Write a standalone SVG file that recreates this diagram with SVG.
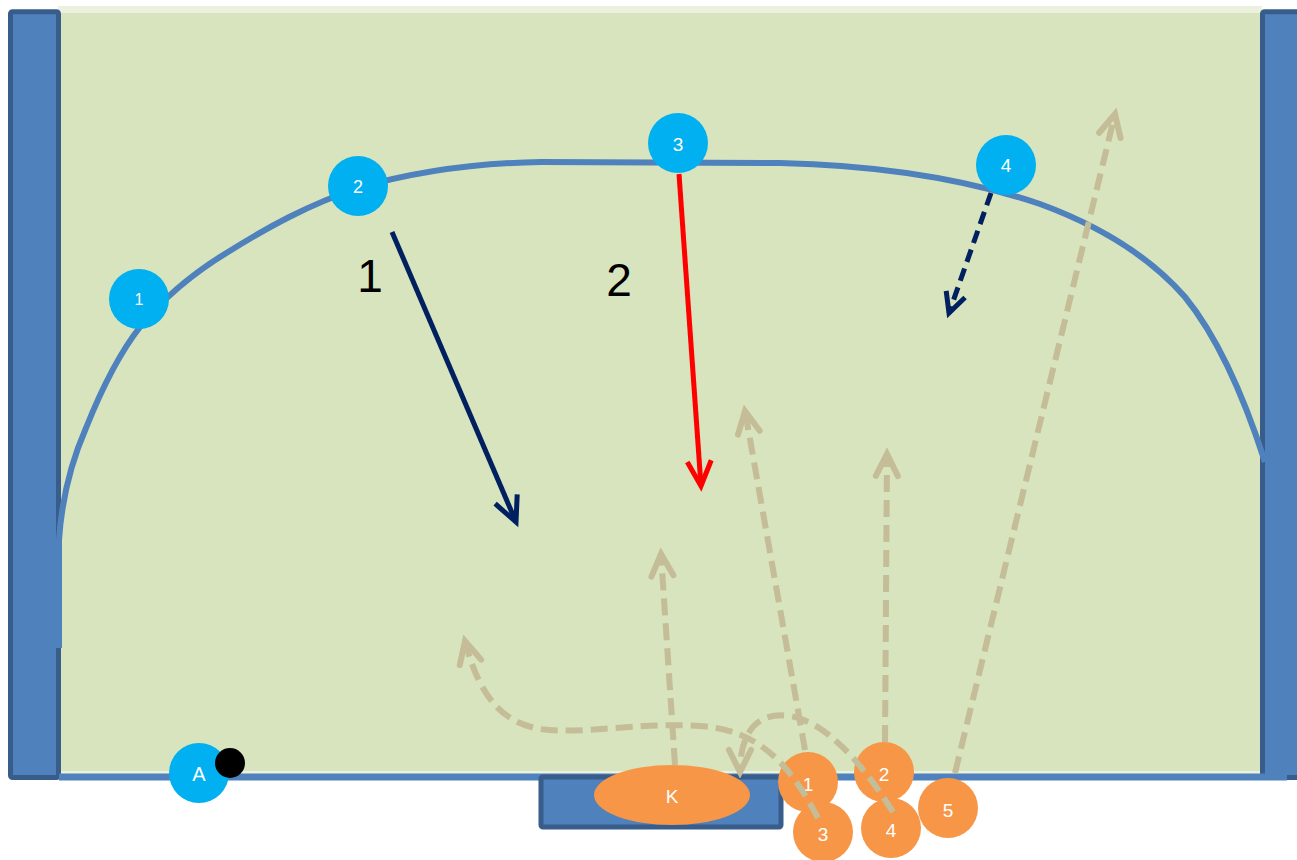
<svg xmlns="http://www.w3.org/2000/svg" width="1297" height="860" viewBox="0 0 1297 860">
  <style>
    .wall { fill: #4F81BD; stroke: #385D8A; stroke-width: 5; }
    .blue { fill: #00B0F0; }
    .orange { fill: #F79646; }
    .lbl { font-family: "Liberation Sans", Arial, sans-serif; fill: #FFFFFF; text-anchor: middle; }
    .big { font-family: "Liberation Sans", Arial, sans-serif; fill: #000000; font-size: 46px; text-anchor: middle; }
    .tan { fill: none; stroke: #C4BD97; stroke-width: 6; stroke-dasharray: 17 8; }
    .navy { fill: none; stroke: #002060; stroke-width: 5; }
    .navy-dash { fill: none; stroke: #002060; stroke-width: 5; stroke-dasharray: 13 7; }
    .red { fill: none; stroke: #FF0000; stroke-width: 5; }
  </style>
  <defs>
    <marker id="head-tan" markerUnits="userSpaceOnUse" viewBox="-30 -16 36 32" markerWidth="36" markerHeight="32" refX="0" refY="0" orient="auto">
      <path d="M -22 -11 L 0 0 L -22 11" fill="none" stroke="#C4BD97" stroke-width="6" stroke-linecap="round" stroke-linejoin="miter"/>
    </marker>
    <marker id="head-navy" markerUnits="userSpaceOnUse" viewBox="-32 -18 40 36" markerWidth="40" markerHeight="36" refX="0" refY="0" orient="auto">
      <path d="M -25 -12 L 0 0 L -25 12" fill="none" stroke="#002060" stroke-width="5" stroke-linejoin="miter"/>
    </marker>
    <marker id="head-navy-small" markerUnits="userSpaceOnUse" viewBox="-28 -16 36 32" markerWidth="36" markerHeight="32" refX="0" refY="0" orient="auto">
      <path d="M -20 -10 L 0 0 L -20 10" fill="none" stroke="#002060" stroke-width="5" stroke-linejoin="miter"/>
    </marker>
    <marker id="head-red" markerUnits="userSpaceOnUse" viewBox="-32 -18 40 36" markerWidth="40" markerHeight="36" refX="0" refY="0" orient="auto">
      <path d="M -25 -12 L 0 0 L -25 12" fill="none" stroke="#FF0000" stroke-width="5" stroke-linejoin="miter"/>
    </marker>
  </defs>

  <!-- playing field -->
  <g id="field">
    <rect x="58" y="6" width="1204" height="769" fill="#EBF1DE"/>
    <rect x="58" y="13" width="1204" height="758" fill="#D7E4BD"/>
  </g>

  <!-- side walls, end line and goal -->
  <g id="walls">
    <rect class="wall" x="10.5" y="11.8" width="48" height="765.7" rx="2"/>
    <rect class="wall" x="1262.5" y="11.8" width="50" height="765.7" rx="2"/>
    <line x1="59" y1="777" x2="1287" y2="777" stroke="#4F81BD" stroke-width="7"/>
  </g>
  <g id="goal">
    <rect class="wall" x="541" y="777" width="240" height="50" rx="2"/>
  </g>

  <!-- goal area line -->
  <g id="area-line">
    <path d="M 59 648 L 59 540 C 62 495 72 460 86 428 C 102 388 118 355 140 327 C 165 296 195 272 228 252 C 268 227 308 205 358 188 C 420 170 480 163 541 162 L 780 163 C 870 165 960 177 1040 204 C 1100 226 1150 257 1185 297 C 1220 340 1245 400 1265 462" fill="none" stroke="#4F81BD" stroke-width="6"/>
  </g>

  <!-- goalkeeper and attacking players -->
  <g id="goalkeeper">
    <ellipse class="orange" cx="672" cy="795" rx="78" ry="30"/>
    <text class="lbl" x="672" y="803" font-size="19">K</text>
  </g>
  <g id="orange-1">
    <circle class="orange" cx="808" cy="782" r="30"/>
    <text class="lbl" x="808" y="791" font-size="19">1</text>
  </g>
  <g id="orange-2">
    <circle class="orange" cx="884" cy="772" r="30"/>
    <text class="lbl" x="884" y="781" font-size="19">2</text>
  </g>
  <g id="orange-3">
    <circle class="orange" cx="823" cy="832" r="30"/>
    <text class="lbl" x="823" y="841" font-size="19">3</text>
  </g>
  <g id="orange-4">
    <circle class="orange" cx="891" cy="828" r="30"/>
    <text class="lbl" x="891" y="837" font-size="19">4</text>
  </g>
  <g id="orange-5">
    <circle class="orange" cx="948" cy="808" r="30"/>
    <text class="lbl" x="948" y="817" font-size="19">5</text>
  </g>

  <!-- movement and pass lines -->
  <g id="connectors">
    <path class="tan" d="M 955 773 L 1115 114" marker-end="url(#head-tan)"/>
    <path class="tan" d="M 885 742 L 887 454" marker-end="url(#head-tan)"/>
    <path class="tan" d="M 805 750 L 745 411" marker-end="url(#head-tan)"/>
    <path class="tan" d="M 675 765 L 661 554" marker-end="url(#head-tan)"/>
    <path class="tan" d="M 818 818 C 790 765 760 730 700 726 C 640 722 580 735 540 729 C 505 723 480 700 465 641" marker-end="url(#head-tan)"/>
    <path class="tan" d="M 893 812 C 860 760 825 722 790 716 C 755 711 740 735 740 772" marker-end="url(#head-tan)"/>
    <path class="navy" d="M 392 232 L 516 522" marker-end="url(#head-navy)"/>
    <path class="red" d="M 679 174 L 701 486" marker-end="url(#head-red)"/>
    <path class="navy-dash" d="M 991 193 L 949 313" marker-end="url(#head-navy-small)"/>
  </g>

  <!-- defending players -->
  <g id="blue-1">
    <circle class="blue" cx="139" cy="299" r="30"/>
    <text class="lbl" x="139" y="305" font-size="16">1</text>
  </g>
  <g id="blue-2">
    <circle class="blue" cx="358" cy="186" r="30"/>
    <text class="lbl" x="358" y="193" font-size="18">2</text>
  </g>
  <g id="blue-3">
    <circle class="blue" cx="678" cy="143" r="30"/>
    <text class="lbl" x="678" y="151" font-size="19">3</text>
  </g>
  <g id="blue-4">
    <circle class="blue" cx="1006" cy="165" r="30"/>
    <text class="lbl" x="1006" y="172" font-size="19">4</text>
  </g>
  <g id="player-a">
    <circle class="blue" cx="199" cy="773" r="30"/>
    <text class="lbl" x="199" y="781" font-size="20">A</text>
  </g>
  <g id="ball">
    <circle cx="230" cy="763" r="15" fill="#000000"/>
  </g>

  <!-- phase numbers -->
  <g id="phase-labels">
    <text class="big" x="370" y="292">1</text>
    <text class="big" x="619" y="296">2</text>
  </g>
</svg>
